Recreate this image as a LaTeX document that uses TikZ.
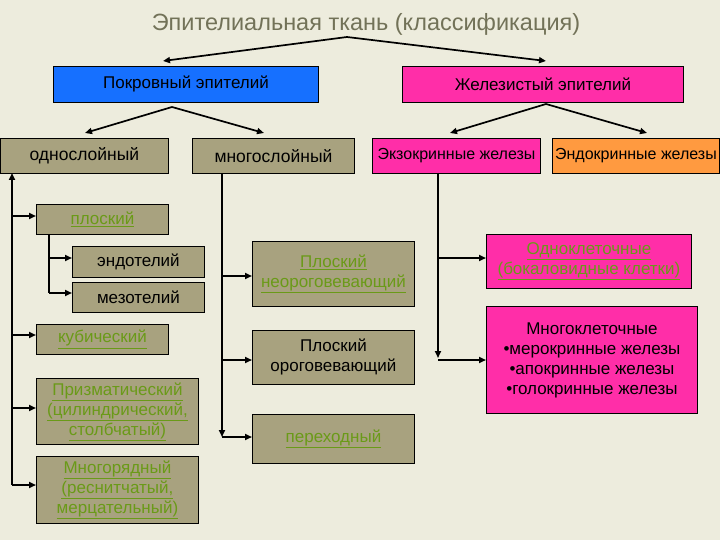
\documentclass[tikz,border=0pt]{standalone}
\usepackage{fontspec}
\setmainfont{Liberation Sans}
\usetikzlibrary{arrows.meta}
\definecolor{bg}{HTML}{EDECDD}
\definecolor{olivebox}{HTML}{A8A27F}
\definecolor{bluebox}{HTML}{1670FF}
\definecolor{magbox}{HTML}{FF2EA8}
\definecolor{orgbox}{HTML}{FF9A40}
\definecolor{lnk}{HTML}{6A9A18}
\definecolor{ttl}{HTML}{727258}
\newcommand{\lk}[1]{\textcolor{lnk}{\underline{#1}}}
\tikzset{
  box/.style={draw=black, line width=0.9pt, inner sep=0pt, anchor=north west, align=center,
    font=\fontsize{17}{20}\selectfont},
  obox/.style={box, fill=olivebox},
  conn/.style={line width=1.7pt, -{Triangle[length=7pt,width=6pt]}},
  plain/.style={line width=1.7pt},
}
\begin{document}
\begin{tikzpicture}[x=1pt,y=-1pt]
\fill[bg] (0,0) rectangle (720,540);
\useasboundingbox (0,0) rectangle (720,540);

\node[text=ttl, font=\fontsize{23.5}{26}\selectfont, inner sep=0pt] (title) at (366,24) {Эпителиальная ткань (классификация)};

% level 1
\node[box, fill=bluebox, minimum width=265, minimum height=36] (pok) at (53,66) {Покровный эпителий};
\node[box, fill=magbox, minimum width=281, minimum height=36] (zhel) at (402,66) {Железистый эпителий};

% level 2
\node[obox, minimum width=168, minimum height=35, font=\fontsize{17.5}{20}\selectfont] (odno) at (0,138) {однослойный};
\node[obox, minimum width=162, minimum height=35, font=\fontsize{17.5}{20}\selectfont] (mnogo) at (192,138) {многослойный};
\node[box, fill=magbox, minimum width=168, minimum height=35, font=\fontsize{16}{18}\selectfont] (exo) at (372,138) {Экзокринные железы};
\node[box, fill=orgbox, minimum width=167, minimum height=35, font=\fontsize{16}{18}\selectfont] (endo) at (552,138) {Эндокринные железы};

% single-layer
\node[obox, minimum width=132, minimum height=30] (plosk) at (36,204) {\lk{плоский}};
\node[obox, minimum width=132, minimum height=31] (endot) at (72,246) {эндотелий};
\node[obox, minimum width=132, minimum height=30] (mezot) at (72,282) {мезотелий};
\node[obox, minimum width=132, minimum height=30] (kub) at (36,324) {\lk{кубический}};
\node[obox, minimum width=162, minimum height=66] (prizm) at (36,378) {\lk{Призматический}\\\lk{(цилиндрический,}\\\lk{столбчатый)}};
\node[obox, minimum width=162, minimum height=67] (mnogor) at (36,456) {\lk{Многорядный}\\\lk{(реснитчатый,}\\\lk{мерцательный)}};

% multi-layer
\node[obox, minimum width=162, minimum height=65] (pnor) at (252,241) {\lk{Плоский}\\\lk{неороговевающий}};
\node[obox, minimum width=162, minimum height=54] (por) at (252,330) {Плоский\\ороговевающий};
\node[obox, minimum width=162, minimum height=49] (perekh) at (252,414) {\lk{переходный}};

% exocrine
\node[box, fill=magbox, minimum width=205, minimum height=54] (odnokl) at (486,234) {\lk{Одноклеточные}\\\lk{(бокаловидные клетки)}};
\node[box, fill=magbox, minimum width=211, minimum height=107] (mnogokl) at (486,306) {Многоклеточные\\•мерокринные железы\\•апокринные железы\\•голокринные железы};

% top arrows
\coordinate (ta) at (347,37);
\coordinate (tl) at (163,61);
\coordinate (tr) at (546,61);
\draw[conn] (ta) -- (tl);
\draw[conn] (ta) -- (tr);

\coordinate (pa) at (172,107);
\coordinate (pl) at (85,133);
\coordinate (pr) at (264,133);
\draw[conn] (pa) -- (pl);
\draw[conn] (pa) -- (pr);

\coordinate (za) at (546,104);
\coordinate (zl) at (450,133);
\coordinate (zr) at (647,133);
\draw[conn] (za) -- (zl);
\draw[conn] (za) -- (zr);

% left tree
\coordinate (lb) at (12,485);
\draw[conn] (lb) -- (12,173);
\draw[conn] (12,216) -- (plosk.west |- 0,216);
\draw[conn] (12,335) -- (kub.west |- 0,335);
\draw[conn] (12,408) -- (prizm.west |- 0,408);
\draw[conn] (lb) -- (mnogor.west |- 0,485);
\coordinate (ib) at (49,293);
\draw[plain] (49,234) -- (ib);
\draw[conn] (49,258) -- (endot.west |- 0,258);
\draw[conn] (ib) -- (mezot.west |- 0,293);

% middle tree
\coordinate (mb) at (222,437);
\draw[conn] (222,173) -- (mb);
\draw[conn] (222,276) -- (pnor.west |- 0,276);
\draw[conn] (222,360) -- (por.west |- 0,360);
\draw[conn] (mb) -- (perekh.west |- 0,437);

% right tree
\coordinate (rb) at (438,358);
\draw[conn] (438,173) -- (rb);
\draw[conn] (438,258) -- (odnokl.west |- 0,258);
\draw[conn] (438,360) -- (mnogokl.west |- 0,360);
\end{tikzpicture}
\end{document}
